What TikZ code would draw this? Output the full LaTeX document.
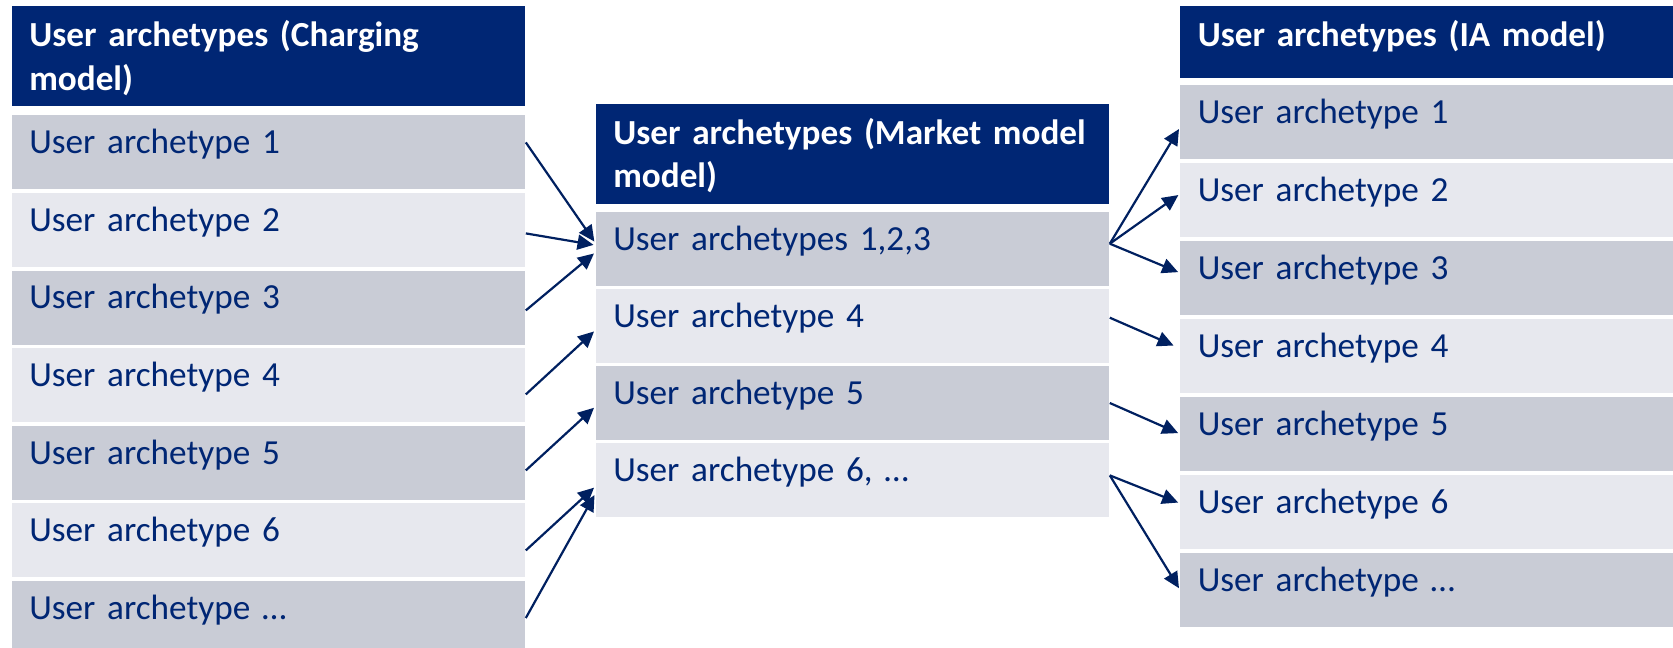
\documentclass[tikz,border=0pt]{standalone}
\usepackage{fontspec}
\setmainfont{Carlito}
\usetikzlibrary{arrows.meta}

\definecolor{navy}{RGB}{0,38,116}
\definecolor{rowdark}{RGB}{201,204,214}
\definecolor{rowlight}{RGB}{231,232,238}
\definecolor{arrowblue}{RGB}{0,32,96}

\begin{document}
\begin{tikzpicture}[x=0.5pt, y=-0.5pt,
  cell/.style={anchor=north west, inner xsep=8.7pt, inner ysep=0pt, text width=239.35pt, align=left,
    font=\fontsize{17.6}{21.7}\selectfont, text=navy, text height=19.15pt},
  head/.style={cell, fill=navy, text=white, font=\fontsize{17.6}{21.7}\selectfont\bfseries, text height=20.2pt},
  dark/.style={cell, fill=rowdark, text depth=17.85pt},
  light/.style={cell, fill=rowlight, text depth=17.85pt},
  link/.style={-{Triangle[length=8pt,width=7.5pt]}, draw=arrowblue, line width=1.1pt, shorten >=1pt}]
 \useasboundingbox (0,0) rectangle (1673,647);

 % charging model
 \node[head, text depth=29.8pt] (C0) at (11.5,6) {User archetypes (Charging\\model)};
 \node[dark]  (C1) at (11.5,115)   {User archetype 1};
 \node[light] (C2) at (11.5,192.6) {User archetype 2};
 \node[dark]  (C3) at (11.5,270.2) {User archetype 3};
 \node[light] (C4) at (11.5,347.8) {User archetype 4};
 \node[dark]  (C5) at (11.5,425.4) {User archetype 5};
 \node[light] (C6) at (11.5,503)   {User archetype 6};
 \node[dark]  (C7) at (11.5,580.6) {User archetype …};

 % market model
 \node[head, text depth=29.8pt] (M0) at (595.5,103.3) {User archetypes (Market model\\model)};
 \node[dark]  (M1) at (595.5,211.8) {User archetypes 1,2,3};
 \node[light] (M2) at (595.5,288.7) {User archetype 4};
 \node[dark]  (M3) at (595.5,365.6) {User archetype 5};
 \node[light] (M4) at (595.5,442.5) {User archetype 6, …};

 % IA model
 \node[head, text depth=15.8pt] (I0) at (1180,6) {User archetypes (IA model)};
 \node[dark]  (I1) at (1180,84.5)  {User archetype 1};
 \node[light] (I2) at (1180,162.5) {User archetype 2};
 \node[dark]  (I3) at (1180,240.5) {User archetype 3};
 \node[light] (I4) at (1180,318.5) {User archetype 4};
 \node[dark]  (I5) at (1180,396.5) {User archetype 5};
 \node[light] (I6) at (1180,474.5) {User archetype 6};
 \node[dark]  (I7) at (1180,552.5) {User archetype …};

 \draw[link] ([yshift=5pt]C1.east) -- ([yshift=3pt]M1.west);
 \draw[link] ([yshift=-1.7pt]C2.east) -- ([yshift=2pt]M1.west);
 \draw[link] ([yshift=-1.4pt]C3.east) -- ([yshift=-1.5pt]M1.west);
 \draw[link] ([yshift=-4.6pt]C4.east) -- ([yshift=-2pt]M2.west);
 \draw[link] ([yshift=-3.8pt]C5.east) -- ([yshift=-1.7pt]M3.west);
 \draw[link] ([yshift=-5pt]C6.east) -- ([yshift=-3.2pt]M4.west);
 \draw[link] (C7.east) -- ([yshift=-6.7pt]M4.west);

 \draw[link] ([yshift=2.75pt]M1.east) -- ([yshift=-2.7pt]I1.west);
 \draw[link] ([yshift=2.75pt]M1.east) -- ([yshift=3pt]I2.west);
 \draw[link] ([yshift=2.75pt]M1.east) -- ([yshift=2.5pt]I3.west);
 \draw[link, shorten >=3.5pt] ([yshift=4.2pt]M2.east) -- ([yshift=3.8pt]I4.west);
 \draw[link] (M3.east) -- (I5.west);
 \draw[link] ([yshift=2.25pt]M4.east) -- ([yshift=4.3pt]I6.west);
 \draw[link] ([yshift=2.25pt]M4.east) -- (I7.west);
\end{tikzpicture}
\end{document}
